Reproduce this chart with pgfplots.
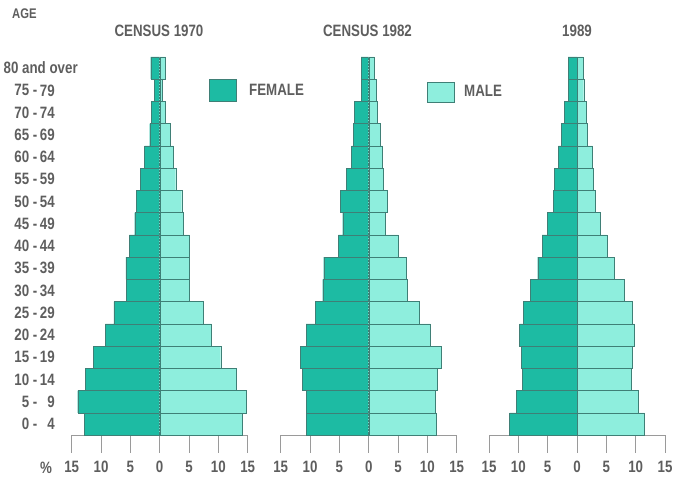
\documentclass[border=0pt]{standalone}
\usepackage{pgfplots}
\pgfplotsset{compat=1.18}
\usepackage{fontspec}
\setmainfont{Liberation Sans}[FakeStretch=0.81]
\definecolor{fem}{HTML}{1DBBA3}
\definecolor{mal}{HTML}{8EEEDD}
\definecolor{edge}{HTML}{3F7F76}
\definecolor{txt}{HTML}{5E5E5E}
\definecolor{axl}{HTML}{9A9A9A}
\newcommand{\lf}{\fontsize{16.5}{19}\selectfont\bfseries}
\pgfplotsset{pyr/.style={
  scale only axis, width=176bp, height=378bp,
  xmin=-15, xmax=15, ymin=0, ymax=17,
  axis x line*=bottom, axis y line=none,
  xbar, bar width=1, bar shift=0pt,
  xtick={-15,-10,-5,0,5,10,15},
  xticklabels={15,10,5,0,5,10,15},
  /pgf/number format/assume math mode=true,
  tick align=outside, major tick length=18bp,
  x axis line style={draw=axl, line width=0.6pt},
  every tick/.style={draw=axl, line width=0.6pt},
  xticklabel style={font=\lf, text=txt, yshift=-5bp},
  clip=false,
  every axis plot/.append style={draw=edge, line width=0.4pt},
}}
\begin{document}
\begin{tikzpicture}[x=1bp,y=1bp]
\useasboundingbox (0,0) rectangle (682,480);
% ---------- panel 1 ----------
\begin{axis}[pyr, at={(71.7bp,45bp)}, anchor=south west]
\addplot[fill=fem] coordinates {(-12.85,0.5) (-13.97,1.5) (-12.7,2.5) (-11.3,3.5) (-9.27,4.5) (-7.8,5.5) (-5.7,6.5) (-5.75,7.5) (-5.17,8.5) (-4.26,9.5) (-3.98,10.5) (-3.3,11.5) (-2.56,12.5) (-1.7,13.5) (-1.48,14.5) (-0.95,15.5) (-1.53,16.5)};
\addplot[fill=mal] coordinates {(14.07,0.5) (14.8,1.5) (13.1,2.5) (10.4,3.5) (8.86,4.5) (7.43,5.5) (5.05,6.5) (5.05,7.5) (5.05,8.5) (3.97,9.5) (3.75,10.5) (2.73,11.5) (2.32,12.5) (1.75,13.5) (1.02,14.5) (0.45,15.5) (1.02,16.5)};
\draw[edge, densely dotted, line width=0.5pt] (axis cs:0,0) -- (axis cs:0,17);
\end{axis}
% ---------- panel 2 ----------
\begin{axis}[pyr, at={(280.7bp,45bp)}, anchor=south west]
\addplot[fill=fem] coordinates {(-10.63,0.5) (-10.63,1.5) (-11.36,2.5) (-11.65,3.5) (-10.68,4.5) (-9.1,5.5) (-7.84,6.5) (-7.67,7.5) (-5.18,8.5) (-4.43,9.5) (-4.84,10.5) (-3.87,11.5) (-2.9,12.5) (-2.67,13.5) (-2.45,14.5) (-1.31,15.5) (-1.31,16.5)};
\addplot[fill=mal] coordinates {(11.58,0.5) (11.3,1.5) (11.75,2.5) (12.3,3.5) (10.5,4.5) (8.63,5.5) (6.53,6.5) (6.36,7.5) (5.05,8.5) (2.83,9.5) (3.12,10.5) (2.49,11.5) (2.38,12.5) (1.98,13.5) (1.41,14.5) (1.24,15.5) (0.96,16.5)};
\draw[edge, densely dotted, line width=0.5pt] (axis cs:0,0) -- (axis cs:0,17);
\end{axis}
% ---------- panel 3 ----------
\begin{axis}[pyr, at={(489bp,45bp)}, anchor=south west]
\addplot[fill=fem] coordinates {(-11.48,0.5) (-10.34,1.5) (-9.26,2.5) (-9.54,3.5) (-9.78,4.5) (-9.2,5.5) (-7.9,6.5) (-6.7,7.5) (-5.96,8.5) (-5.0,9.5) (-4.09,10.5) (-3.87,11.5) (-3.19,12.5) (-2.62,13.5) (-2.16,14.5) (-1.53,15.5) (-1.53,16.5)};
\addplot[fill=mal] coordinates {(11.52,0.5) (10.39,1.5) (9.3,2.5) (9.48,3.5) (9.76,4.5) (9.42,5.5) (8.1,6.5) (6.41,7.5) (5.11,8.5) (3.97,9.5) (3.12,10.5) (2.83,11.5) (2.66,12.5) (1.8,13.5) (1.53,14.5) (1.14,15.5) (1.02,16.5)};
\draw[edge, densely dotted, line width=0.5pt] (axis cs:0,0) -- (axis cs:0,17);
\end{axis}
% ---------- age labels ----------
\foreach \lo/\hi [count=\i from 0] in {0/4,5/9,10/14,15/19,20/24,25/29,30/34,35/39,40/44,45/49,50/54,55/59,60/64,65/69,70/74,75/79}{
  \node[anchor=east, inner sep=0pt, font=\lf, text=txt] at (37.5,{45+22.235*(\i+0.5)}) {\lo\ -};
  \node[anchor=east, inner sep=0pt, font=\lf, text=txt] at (55,{45+22.235*(\i+0.5)}) {\hi};
}
\node[anchor=west, inner sep=0pt, font=\lf, text=txt] at (3.5,{45+22.235*16.5}) {80 and over};
% ---------- titles and legend ----------
\node[anchor=west, inner sep=0pt, text=txt, font=\fontsize{14}{16}\selectfont\bfseries] at (12,466) {AGE};
\node[inner sep=0pt, text=txt, font=\lf] at (159,449) {CENSUS 1970};
\node[inner sep=0pt, text=txt, font=\lf] at (367.5,449) {CENSUS 1982};
\node[inner sep=0pt, text=txt, font=\lf] at (577,449) {1989};
\node[inner sep=0pt, text=txt, font=\lf] at (46,12.5) {\%};
\fill[fem, draw=edge, line width=0.4pt] (209,379) rectangle (236,401);
\node[anchor=west, inner sep=0pt, text=txt, font=\lf] at (249,390) {FEMALE};
\fill[mal, draw=edge, line width=0.4pt] (427,378) rectangle (454,398);
\node[anchor=west, inner sep=0pt, text=txt, font=\lf] at (464,389) {MALE};
\end{tikzpicture}
\end{document}
